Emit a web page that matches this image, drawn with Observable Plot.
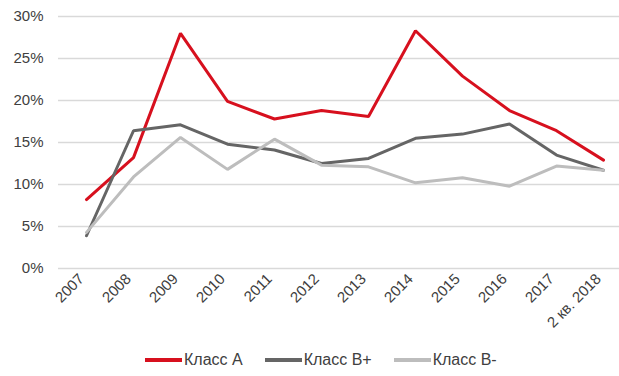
<!DOCTYPE html>
<html><head><meta charset="utf-8">
<script src="https://cdn.jsdelivr.net/npm/d3@7"></script>
<script src="https://cdn.jsdelivr.net/npm/@observablehq/plot@0.6"></script>
<style>
body{margin:0;background:#fff;font-family:"Liberation Sans",Arial,sans-serif;width:619px;height:376px;overflow:hidden;}
#legend{display:flex;align-items:center;height:40px;padding-left:145px;font-size:16px;color:#404040;}
.item{display:flex;align-items:center;margin-right:22px;}
.sw{display:inline-block;width:37px;height:4px;margin-right:2px;}
</style></head><body><div id="chart"></div><div id="legend"></div>
<script>
const periods = ["2007","2008","2009","2010","2011","2012","2013","2014","2015","2016","2017","2 кв. 2018"];
const seriesNames = ["Класс А","Класс В+","Класс В-"];
const classA      = [8.2, 13.2, 28.0, 19.9, 17.8, 18.8, 18.1, 28.3, 22.9, 18.8, 16.4, 12.9];
const classBplus  = [3.9, 16.4, 17.1, 14.8, 14.1, 12.5, 13.1, 15.5, 16.0, 17.2, 13.5, 11.7];
const classBminus = [4.3, 10.9, 15.6, 11.8, 15.4, 12.3, 12.1, 10.2, 10.8,  9.8, 12.2, 11.7];
const yTicks = [0, 5, 10, 15, 20, 25, 30];
const colors = ["#d7101e", "#656565", "#bdbdbd"];

const seriesValues = [classA, classBplus, classBminus];
const data = seriesNames.flatMap((s, i) => periods.map((p, j) => ({series: s, period: p, value: seriesValues[i][j]})));

const chart = Plot.plot({
  width: 619, height: 340,
  marginTop: 16, marginBottom: 72, marginLeft: 58, marginRight: 0,
  style: {fontFamily: '"Liberation Sans", Arial, sans-serif', color: "#404040", background: "#fff"},
  x: {type: "point", domain: periods, range: [82, 607], padding: 0},
  y: {domain: [0, 30]},
  color: {domain: seriesNames, range: colors},
  marks: [
    Plot.gridY(yTicks, {stroke: "#d9d9d9", strokeOpacity: 1, strokeWidth: 1.5}),
    Plot.axisY(yTicks, {tickFormat: d => d + "%", tickSize: 0, tickPadding: 15, fontSize: 15, fill: "#404040", label: null}),
    Plot.axisX({tickRotate: -45, tickSize: 0, tickPadding: 8, dx: -5, fontSize: 15, fill: "#404040", label: null}),
    Plot.line(data, {x: "period", y: "value", z: "series", stroke: "series", strokeWidth: 3, strokeLinejoin: "miter"})
  ]
});
document.getElementById("chart").appendChild(chart);

const legend = document.getElementById("legend");
seriesNames.forEach((s, i) => {
  const it = document.createElement("span"); it.className = "item";
  const sw = document.createElement("span"); sw.className = "sw"; sw.style.background = colors[i];
  const tx = document.createElement("span"); tx.textContent = s;
  it.appendChild(sw); it.appendChild(tx); legend.appendChild(it);
});
</script></body></html>
